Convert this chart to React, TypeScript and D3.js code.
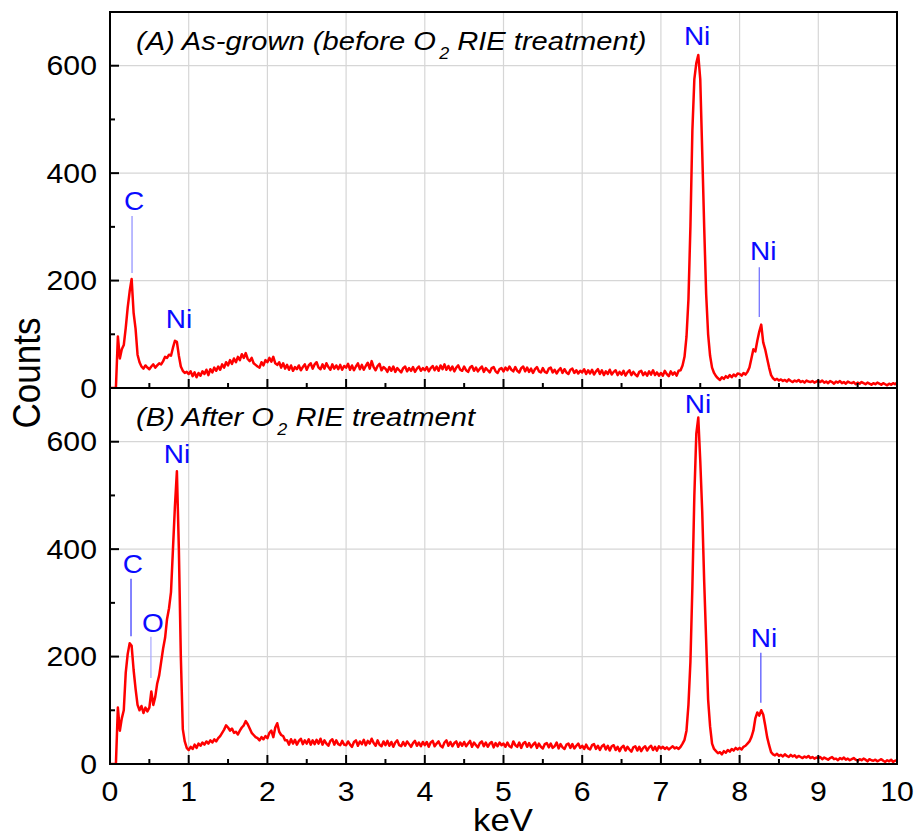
import React from "react";
import * as d3 from "d3";

// ---- data ----
const channelWidthKeV = 0.025;

const countsA: number[] = [
  0,0,0,0,96,55,72,80,112,150,180,203,140,110,62,48,40,36,42,38,35,40,44,38,42,46,44,50,58,56,62,60,75,88,86,60,40,32,28,30,
  26,31,22,29,20,28,23,31,26,34,24,35,29,38,32,40,34,44,38,48,42,52,45,55,48,58,52,63,56,65,54,50,56,46,43,40,38,48,42,52,
  48,56,49,58,46,43,48,38,46,36,43,34,42,32,39,35,42,33,39,44,34,42,46,36,44,48,38,35,44,36,46,39,34,44,36,42,35,43,34,41,
  38,45,34,42,33,40,46,35,43,34,41,47,36,50,39,33,41,45,33,39,36,30,39,32,40,30,37,33,29,37,40,31,37,32,39,30,36,40,32,37,
  33,39,31,37,41,33,40,32,42,35,44,34,41,33,40,31,38,42,34,32,40,33,30,38,41,32,38,31,36,40,30,37,33,29,37,39,31,28,35,37,
  31,38,33,40,34,31,39,32,29,37,40,31,38,30,36,28,35,39,31,29,37,30,28,36,38,29,34,27,33,37,28,35,29,26,34,36,28,33,27,32,
  29,35,26,33,27,34,25,31,35,26,33,24,31,26,34,25,30,33,24,30,25,32,23,29,33,24,30,25,22,30,32,24,29,23,31,25,33,24,29,23,
  28,23,32,26,22,31,25,29,23,32,33,42,58,95,165,300,480,575,605,620,575,440,300,175,100,60,38,28,22,18,15,20,17,22,19,24,20,25,22,27,
  26,23,28,25,30,38,55,72,68,88,105,118,85,72,55,38,24,18,15,17,14,16,13,15,12,16,13,11,14,12,15,11,13,10,14,12,11,13,10,12,
  13,11,14,10,12,9,13,11,8,12,10,13,9,11,8,12,10,9,11,7,10,8,11,9,7,10,8,6,9,7,10,8,6,9,7,5,8,6,9,7,
  10,
];

const countsB: number[] = [
  0,0,0,0,105,62,85,100,170,205,225,220,175,140,110,100,108,95,105,98,105,135,110,125,150,165,190,215,235,270,290,320,400,480,545,400,200,65,42,30,
  26,32,28,36,30,38,34,40,36,42,38,44,40,46,42,48,52,58,64,72,68,62,66,58,60,55,62,68,72,80,74,66,58,54,50,48,44,50,46,52,
  48,58,62,50,68,76,60,54,52,44,44,36,46,38,45,36,43,47,37,44,38,46,36,44,37,45,38,47,36,44,38,34,43,46,36,44,37,35,43,36,
  35,42,36,32,41,44,34,42,37,45,35,43,38,47,39,34,44,36,33,42,35,43,34,41,32,40,44,35,33,41,34,42,37,32,39,43,34,40,33,41,
  35,41,32,40,43,33,38,42,34,31,40,44,34,41,33,39,42,32,40,34,41,33,38,43,32,40,35,31,39,42,33,40,32,38,41,31,39,33,40,35,
  38,32,40,33,31,42,35,32,40,30,38,41,32,39,31,36,40,30,38,32,29,37,39,31,38,30,33,40,29,37,31,28,36,38,30,37,29,34,38,30,
  34,28,36,29,27,35,37,28,34,26,33,36,27,34,25,33,35,26,32,24,31,34,25,32,27,23,31,33,25,32,24,30,33,25,31,34,26,32,25,33,
  29,32,28,31,27,30,33,29,31,28,32,38,45,62,110,190,330,500,615,645,565,470,340,230,120,70,38,28,24,20,22,18,24,21,26,23,28,25,30,27,
  30,27,32,34,38,42,50,62,85,96,90,100,92,72,50,35,22,18,16,19,15,17,14,18,15,13,17,14,16,12,15,13,11,14,12,15,11,13,10,12,
  11,13,9,12,10,8,11,13,9,10,7,11,9,12,8,10,7,9,11,8,6,9,7,10,8,5,9,7,6,8,5,7,9,6,4,7,5,8,4,6,
  7,
];

const xTicksMajor = [0, 1, 2, 3, 4, 5, 6, 7, 8, 9, 10];
const xTicksMinor = [0.5, 1.5, 2.5, 3.5, 4.5, 5.5, 6.5, 7.5, 8.5, 9.5];
const yTicksMajor = [0, 200, 400, 600];
const yTicksMinor = [100, 300, 500];
const xGrid = [1, 2, 3, 4, 5, 6, 7, 8, 9];
const yGrid = [200, 400, 600];

// annotations: [text, label energy, label count, line energy, line top count, line bottom count]
const annotationsA: [string, number, number, number | null, number, number][] = [
  ["C", 0.305, 332, 0.28, 320, 214],
  ["Ni", 0.877, 112, null, 0, 0],
  ["Ni", 7.46, 639, null, 0, 0],
  ["Ni", 8.3, 238, 8.25, 225, 132],
];
const annotationsB: [string, number, number, number | null, number, number][] = [
  ["C", 0.29, 356, 0.267, 345, 238],
  ["O", 0.546, 246, 0.52, 237, 160],
  ["Ni", 0.85, 561, null, 0, 0],
  ["Ni", 7.47, 654, null, 0, 0],
  ["Ni", 8.31, 218, 8.27, 207, 114],
];
const annotationLineColorsA = ["#8c8cff", "", "", "#6a6aff"];
const annotationLineColorsB = ["#3030ff", "#a8a8ff", "", "", "#4a4aff"];

// ---- layout ----
const W = 917;
const H = 836;
const left = 110;
const right = 897;
const panelA = { top: 12, bottom: 388 };
const panelB = { top: 388, bottom: 764 };
const FONT = "'Liberation Sans', Arial, Helvetica, sans-serif";
const SX = 1.12;

const x = d3.scaleLinear().domain([0, 10]).range([left, right]);

function SText(props: {
  x: number; y: number; size: number; anchor?: string; italic?: boolean;
  fill?: string; rotate?: number; children: React.ReactNode;
}) {
  const { x: tx, y: ty, size, anchor = "start", italic, fill = "#000", rotate, children } = props;
  return (
    <text
      transform={`translate(${tx},${ty}) scale(${SX},1)${rotate ? ` rotate(${rotate})` : ""}`}
      fontFamily={FONT}
      fontSize={size}
      fontStyle={italic ? "italic" : "normal"}
      textAnchor={anchor}
      fill={fill}
    >
      {children}
    </text>
  );
}

function Panel(props: {
  top: number; bottom: number; counts: number[];
  annotations: [string, number, number, number | null, number, number][];
  lineColors: string[]; titleA: string; titleB: string; clipId: string;
}) {
  const { top, bottom, counts, annotations, lineColors, titleA, titleB, clipId } = props;
  const y = d3.scaleLinear().domain([0, 700]).range([bottom, top]);
  const line = d3
    .line<number>()
    .x((_, i) => x(i * channelWidthKeV))
    .y((d) => y(d));
  return (
    <g>
      <defs>
        <clipPath id={clipId}>
          <rect x={left} y={top} width={right - left} height={bottom - top} />
        </clipPath>
      </defs>
      {xGrid.map((v) => (
        <line key={"gx" + v} x1={x(v)} x2={x(v)} y1={top} y2={bottom} stroke="#d6d6d6" strokeWidth={1.2} />
      ))}
      {yGrid.map((v) => (
        <line key={"gy" + v} x1={left} x2={right} y1={y(v)} y2={y(v)} stroke="#d6d6d6" strokeWidth={1.2} />
      ))}
      <path
        d={line(counts) || ""}
        fill="none"
        stroke="#ff0000"
        strokeWidth={2.5}
        strokeLinejoin="round"
        clipPath={`url(#${clipId})`}
      />
      {annotations.map((a, i) =>
        a[3] !== null ? (
          <line
            key={"al" + i}
            x1={x(a[3] as number)}
            x2={x(a[3] as number)}
            y1={y(a[4])}
            y2={y(a[5])}
            stroke={lineColors[i]}
            strokeWidth={1.2}
          />
        ) : null
      )}
      {annotations.map((a, i) => (
        <SText key={"at" + i} x={x(a[1])} y={y(a[2])} size={25} anchor="middle" fill="#0a0aff">
          {a[0]}
        </SText>
      ))}
      {/* frame */}
      <rect x={left} y={top} width={right - left} height={bottom - top} fill="none" stroke="#000" strokeWidth={2} />
      {xTicksMajor.map((v) => (
        <line key={"xt" + v} x1={x(v)} x2={x(v)} y1={bottom} y2={bottom - 9} stroke="#000" strokeWidth={2} />
      ))}
      {xTicksMinor.map((v) => (
        <line key={"xm" + v} x1={x(v)} x2={x(v)} y1={bottom} y2={bottom - 5} stroke="#000" strokeWidth={2} />
      ))}
      {yTicksMajor.map((v) => (
        <line key={"yt" + v} x1={left} x2={left + 9} y1={y(v)} y2={y(v)} stroke="#000" strokeWidth={2} />
      ))}
      {yTicksMinor.map((v) => (
        <line key={"ym" + v} x1={left} x2={left + 5} y1={y(v)} y2={y(v)} stroke="#000" strokeWidth={2} />
      ))}
      {yTicksMajor.map((v) => (
        <SText key={"yl" + v} x={97} y={y(v) + 9.5} size={27} anchor="end">
          {String(v)}
        </SText>
      ))}
      <text
        transform={`translate(136,${top + 38}) scale(${SX},1)`}
        fontFamily={FONT}
        fontSize={26}
        fontStyle="italic"
      >
        <tspan>{titleA}</tspan>
        <tspan dx={3} dy={9} fontSize={16}>2</tspan>
        <tspan dy={-9}>{" " + titleB}</tspan>
      </text>
    </g>
  );
}

export default function App() {
  return (
    <svg
      width={W}
      height={H}
      viewBox={`0 0 ${W} ${H}`}
      style={{ position: "absolute", left: 0, top: 0, background: "#fff" }}
    >
      <rect x={0} y={0} width={W} height={H} fill="#fff" />
      <Panel
        top={panelA.top}
        bottom={panelA.bottom}
        counts={countsA}
        annotations={annotationsA}
        lineColors={annotationLineColorsA}
        titleA="(A) As-grown (before O"
        titleB="RIE treatment)"
        clipId="clipA"
      />
      <Panel
        top={panelB.top}
        bottom={panelB.bottom}
        counts={countsB}
        annotations={annotationsB}
        lineColors={annotationLineColorsB}
        titleA="(B) After O"
        titleB="RIE treatment"
        clipId="clipB"
      />
      {xTicksMajor.map((v) => (
        <SText key={"xl" + v} x={x(v)} y={801} size={27} anchor="middle">
          {String(v)}
        </SText>
      ))}
      <SText x={503} y={831} size={31} anchor="middle">keV</SText>
      <SText x={40} y={373} size={35} anchor="middle" rotate={-90}>Counts</SText>
    </svg>
  );
}
